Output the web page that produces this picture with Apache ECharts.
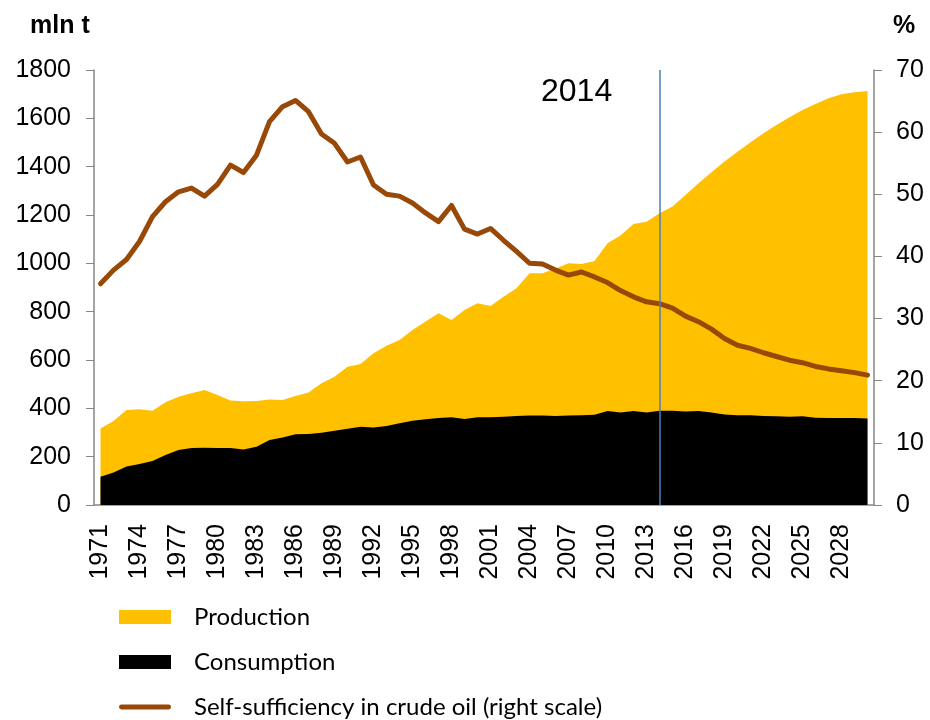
<!DOCTYPE html>
<html>
<head>
<meta charset="utf-8">
<title>Crude oil</title>
<script src="https://cdn.jsdelivr.net/npm/echarts@6/dist/echarts.min.js"></script>
<style>
  html, body { margin: 0; padding: 0; background: #fff; }
  #chart { width: 930px; height: 720px; }
</style>
</head>
<body>
<div id="chart"></div>
<script>
  var years = ['1971', '1972', '1973', '1974', '1975', '1976', '1977', '1978', '1979', '1980',
    '1981', '1982', '1983', '1984', '1985', '1986', '1987', '1988', '1989', '1990',
    '1991', '1992', '1993', '1994', '1995', '1996', '1997', '1998', '1999', '2000',
    '2001', '2002', '2003', '2004', '2005', '2006', '2007', '2008', '2009', '2010',
    '2011', '2012', '2013', '2014', '2015', '2016', '2017', '2018', '2019', '2020',
    '2021', '2022', '2023', '2024', '2025', '2026', '2027', '2028', '2029', '2030'];

  //  mln t
  var production = [317, 348, 393, 396, 390, 425, 448, 462, 476, 455,
    432, 429, 430, 437, 434, 451, 466, 504, 531, 572,
    583, 628, 659, 683, 724, 759, 793, 766, 807, 835,
    823, 862, 897, 959, 959, 979, 1000, 997, 1010, 1083,
    1115, 1163, 1172, 1207, 1235, 1283, 1331, 1377, 1421, 1462,
    1501, 1538, 1572, 1604, 1635, 1659, 1683, 1700, 1708, 1713];

  var consumption = [117, 135, 159, 170, 182, 207, 228, 236, 237, 236,
    236, 230, 241, 269, 279, 293, 294, 299, 307, 316,
    324, 321, 327, 338, 349, 355, 360, 363, 356, 363,
    363, 365, 368, 370, 370, 368, 370, 371, 373, 389,
    383, 389, 383, 390, 390, 387, 389, 383, 375, 371,
    371, 368, 367, 365, 367, 361, 360, 360, 360, 358];

  //  %
  var selfSufficiency = [35.6, 37.8, 39.5, 42.4, 46.4, 48.8, 50.4, 51.0, 49.7, 51.6,
    54.7, 53.5, 56.3, 61.7, 64.1, 65.1, 63.3, 59.7, 58.2, 55.2,
    56.0, 51.5, 50.0, 49.7, 48.6, 47.0, 45.6, 48.2, 44.4, 43.6,
    44.5, 42.6, 40.8, 38.9, 38.8, 37.8, 37.0, 37.5, 36.7, 35.8,
    34.5, 33.5, 32.7, 32.4, 31.7, 30.4, 29.5, 28.3, 26.8, 25.7,
    25.2, 24.5, 23.9, 23.3, 22.9, 22.3, 21.9, 21.6, 21.3, 20.9];

  var markYear = '2014';

  var axisColor = '#868686';
  var font = '"Liberation Sans", Arial, sans-serif';

  var chart = echarts.init(document.getElementById('chart'));

  //  数值轴标签不要千分位
  function plain(v) {
    return String(v);
  }

  //  每个图例单独一行，避免自动换列
  function legendRow(name, icon, top) {
    return {
      orient: 'vertical',
      left: 119,
      top: top,
      padding: 0,
      itemWidth: 52,
      itemHeight: 14,
      textStyle: { fontFamily: 'Lato, "Noto Sans", sans-serif', fontSize: 24, lineHeight: 24, color: '#000', padding: [0, 0, 0, 18] },
      data: [{ name: name, icon: icon }]
    };
  }

  chart.setOption({
    animation: false,
    grid: { left: 94, right: 56, top: 70, bottom: 215 },
    legend: [
      legendRow('Production', 'rect', 605),
      legendRow('Consumption', 'rect', 650),
      legendRow('Self-sufficiency in crude oil (right scale)', 'path://M2,0 L50,0 A2.5,2.5 0 0 1 50,5 L2,5 A2.5,2.5 0 0 1 2,0 Z', 695)
    ],
    graphic: [
      { type: 'text', left: 30, top: 14, style: { text: 'mln t', fontFamily: font, fontSize: 25, fontWeight: 'bold', fill: '#000' } },
      { type: 'text', left: 893, top: 14, style: { text: '%', fontFamily: font, fontSize: 25, fontWeight: 'bold', fill: '#000' } },
      { type: 'text', left: 541, top: 76, style: { text: markYear, fontFamily: font, fontSize: 32, fill: '#000' } }
    ],
    xAxis: {
      type: 'category',
      data: years,
      boundaryGap: true,
      axisLine: { lineStyle: { color: axisColor, width: 1.5 } },
      axisTick: { interval: 0, length: 7, lineStyle: { color: axisColor } },
      axisLabel: { interval: 2, rotate: 90, margin: 19, fontFamily: font, fontSize: 25, color: '#000' }
    },
    yAxis: [
      {
        type: 'value', min: 0, max: 1800, interval: 200,
        splitLine: { show: false },
        axisLine: { show: true, lineStyle: { color: axisColor, width: 1.5 } },
        axisTick: { show: true, length: 8, lineStyle: { color: axisColor } },
        axisLabel: { margin: 23, fontFamily: font, fontSize: 25, color: '#000', formatter: plain }
      },
      {
        type: 'value', min: 0, max: 70, interval: 10,
        splitLine: { show: false },
        axisLine: { show: true, lineStyle: { color: axisColor, width: 1.5 } },
        axisTick: { show: true, length: 8, lineStyle: { color: axisColor } },
        axisLabel: { margin: 22, fontFamily: font, fontSize: 25, color: '#000', formatter: plain }
      }
    ],
    series: [
      {
        name: 'Production',
        type: 'line',
        data: production,
        symbol: 'none',
        color: '#FFC000',
        lineStyle: { width: 0 },
        areaStyle: { color: '#FFC000', opacity: 1 },
        markLine: {
          silent: true,
          symbol: 'none',
          label: { show: false },
          lineStyle: { color: '#4a7ebb', width: 1.5, type: 'solid' },
          data: [{ xAxis: markYear }]
        }
      },
      {
        name: 'Consumption',
        type: 'line',
        data: consumption,
        symbol: 'none',
        color: '#000000',
        lineStyle: { width: 0 },
        areaStyle: { color: '#000000', opacity: 1 },
        z: 3
      },
      {
        name: 'Self-sufficiency in crude oil (right scale)',
        type: 'line',
        yAxisIndex: 1,
        data: selfSufficiency,
        symbol: 'none',
        color: '#984807',
        lineStyle: { width: 5, color: '#984807', cap: 'round', join: 'round' },
        z: 4
      }
    ]
  });
</script>
</body>
</html>
